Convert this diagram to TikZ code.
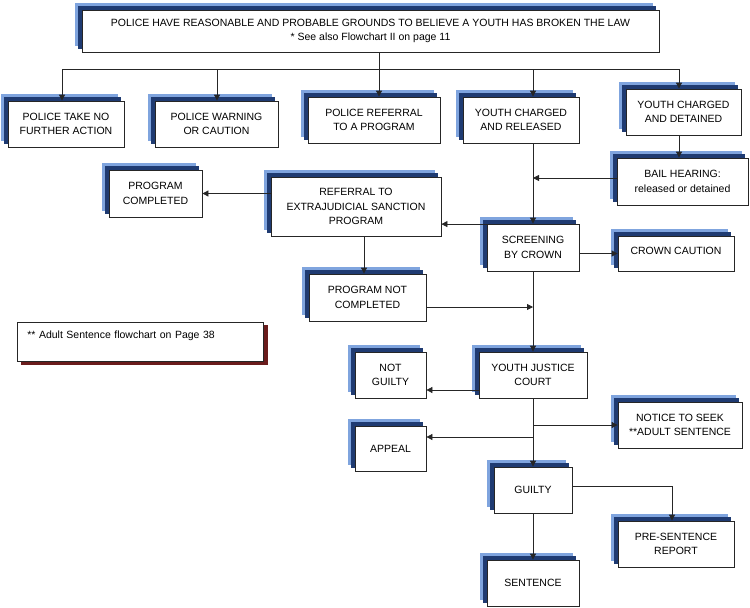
\documentclass[tikz,border=0pt]{standalone}
\usepackage{fontspec}
\setmainfont{Liberation Sans}
\usetikzlibrary{arrows.meta,shadows}

\definecolor{shadelight}{HTML}{7FA4DE}
\definecolor{shadedark}{HTML}{1F3B72}
\definecolor{notered}{HTML}{6A1C1C}

\tikzset{
    card/.style={rectangle, draw=black!85, line width=0.8pt, fill=white, align=center,
        font=\fontsize{10.5}{14.5}\selectfont, inner sep=2pt,
        copy shadow={shadow xshift=-7pt, shadow yshift=7pt, fill=shadelight, draw=shadelight},
        copy shadow={shadow xshift=-4pt, shadow yshift=4pt, fill=shadedark, draw=shadedark}},
    flow/.style={draw=black!85, line width=0.8pt, -{Triangle[length=6pt, width=6pt]}},
}

\begin{document}
\begin{tikzpicture}[x=1pt, y=-1pt]
        \useasboundingbox (0, 0) rectangle (750, 608);

        \node[card, minimum width=577, minimum height=42] at (370.5, 31)  (top)
            {POLICE HAVE REASONABLE AND PROBABLE GROUNDS TO BELIEVE A YOUTH HAS BROKEN THE LAW\\ * See also Flowchart II on page 11};

        \node[card, minimum width=116, minimum height=46] at (66, 124)    (nfa)      {POLICE TAKE NO\\ FURTHER ACTION};
        \node[card, minimum width=123, minimum height=46] at (216.5, 124) (warn)     {POLICE WARNING\\ OR CAUTION};
        \node[card, minimum width=132, minimum height=46] at (374, 120)   (pref)     {POLICE REFERRAL\\ TO A PROGRAM};
        \node[card, minimum width=116, minimum height=46] at (521, 120)   (crel)     {YOUTH CHARGED\\ AND RELEASED};
        \node[card, minimum width=115, minimum height=46] at (683.5, 112) (cdet)     {YOUTH CHARGED\\ AND DETAINED};

        \node[card, minimum width=131, minimum height=47] at (682.5, 181.5) (bail)   {BAIL HEARING:\\ released or detained};
        \node[card, minimum width=93, minimum height=47]  at (155.5, 193.5) (pcomp)  {PROGRAM\\ COMPLETED};
        \node[card, minimum width=170, minimum height=59] at (356, 206.5)   (ejs)    {REFERRAL TO\\ EXTRAJUDICIAL SANCTION\\ PROGRAM};
        \node[card, minimum width=92, minimum height=47]  at (533, 247.5)   (screen) {SCREENING\\ BY CROWN};
        \node[card, minimum width=116, minimum height=35, text depth=6pt] at (676, 253.5) (caution) {CROWN CAUTION};
        \node[card, minimum width=117, minimum height=47] at (367.5, 297.5) (pnc)    {PROGRAM NOT\\ COMPLETED};

        % side note
        \node[rectangle, draw=black!85, line width=0.8pt, fill=white, anchor=north west,
            text width=226, align=left, inner xsep=10pt, inner ysep=8pt,
            text height=8pt, text depth=15pt, font=\fontsize{10.5}{14.5}\selectfont,
            copy shadow={shadow xshift=4pt, shadow yshift=-3pt, fill=notered, draw=notered}]
            at (17, 322) (note) {** Adult Sentence flowchart on Page 38};

        \node[card, minimum width=108, minimum height=46] at (533, 375)   (yjc)      {YOUTH JUSTICE\\ COURT};
        \node[card, minimum width=71, minimum height=46]  at (390.5, 375) (ng)       {NOT\\ GUILTY};
        \node[card, minimum width=124, minimum height=46] at (680, 425)   (notice)   {NOTICE TO SEEK\\ **ADULT SENTENCE};
        \node[card, minimum width=71, minimum height=45]  at (390.5, 448.5) (appeal) {APPEAL};
        \node[card, minimum width=78, minimum height=46]  at (533, 490)   (guilty)   {GUILTY};
        \node[card, minimum width=92, minimum height=46]  at (533, 583)   (sentence) {SENTENCE};
        \node[card, minimum width=116, minimum height=46] at (676, 544)   (psr)      {PRE-SENTENCE\\ REPORT};

        % first split
        \coordinate (bus) at (379, 69);
        \draw[flow] (top.south -| bus) -- (bus) -| ([xshift=-4pt]nfa.north);
        \draw[flow] (bus) -| ([xshift=0.5pt]warn.north);
        \draw[flow] (bus) -- ([xshift=5pt]pref.north);
        \draw[flow] (bus) -| (crel.north -| screen);
        \draw[flow] (bus) -| ([xshift=-4.5pt]cdet.north);

        \draw[flow] ([xshift=-4.5pt]cdet.south) -- ([xshift=-4.5pt]cdet.south |- bail.north);
        \draw[flow] (crel.south -| screen) -- (screen.north);
        \draw[flow] ([yshift=3.5pt]bail.west) -- ([yshift=3.5pt]bail.west -| screen);

        \draw[flow] ([yshift=-0.5pt]screen.north west) -- ([yshift=-0.5pt]screen.north west -| ejs.east);
        \draw[flow] (ejs.west |- pcomp.east) -- (pcomp.east);
        \draw[flow] ([xshift=-3.5pt]pnc.north |- ejs.south) -- ([xshift=-3.5pt]pnc.north);
        \draw[flow] (screen.east |- caution.west) -- (caution.west);
        \draw[flow] ([yshift=-9.5pt]pnc.east) -- ([yshift=-9.5pt]pnc.east -| screen);
        \draw[flow] (screen.south) -- (yjc.north);

        \draw[flow] ([yshift=-15pt]yjc.west) -- ([yshift=-15pt]yjc.west -| ng.east);
        \draw[flow] (yjc.south) -- (guilty.north);
        \draw[flow] (yjc.south |- notice.west) -- (notice.west);
        \draw[flow] ([yshift=11.5pt]appeal.east -| yjc.south) -- ([yshift=11.5pt]appeal.east);

        \draw[flow] (guilty.south) -- (sentence.north);
        \draw[flow] ([yshift=4pt]guilty.east) -| ([xshift=-4pt]psr.north);

    \end{tikzpicture}
\end{document}
